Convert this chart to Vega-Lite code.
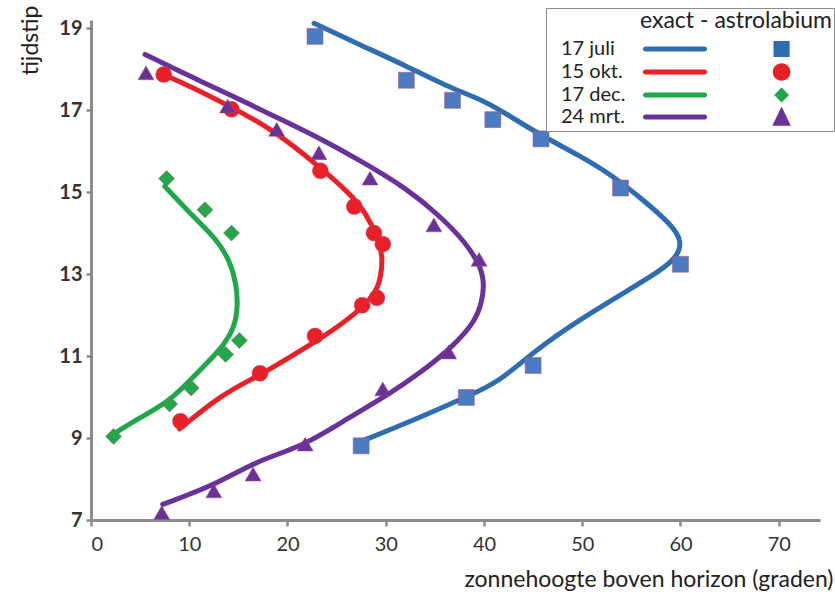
{
  "$schema": "https://vega.github.io/schema/vega-lite/v6.json",
  "width": 729,
  "height": 500,
  "autosize": "none",
  "padding": {"left": 91, "top": 20, "right": 15, "bottom": 78},
  "background": "white",
  "config": {"view": {"stroke": null}, "font": "Lato"},
  "data": {"values": [
    {"series":"17 juli","kind":"e","x":22.7,"y":19.12},
    {"series":"17 juli","kind":"e","x":27.6,"y":18.57},
    {"series":"17 juli","kind":"e","x":32.1,"y":18.08},
    {"series":"17 juli","kind":"e","x":36.1,"y":17.59},
    {"series":"17 juli","kind":"e","x":40.2,"y":17.22},
    {"series":"17 juli","kind":"e","x":42.9,"y":16.81},
    {"series":"17 juli","kind":"e","x":46.3,"y":16.32},
    {"series":"17 juli","kind":"e","x":49.6,"y":15.91},
    {"series":"17 juli","kind":"e","x":53.0,"y":15.42},
    {"series":"17 juli","kind":"e","x":56.4,"y":14.77},
    {"series":"17 juli","kind":"e","x":59.1,"y":14.2},
    {"series":"17 juli","kind":"e","x":60.2,"y":13.79},
    {"series":"17 juli","kind":"e","x":59.6,"y":13.4},
    {"series":"17 juli","kind":"e","x":57.8,"y":13.06},
    {"series":"17 juli","kind":"e","x":54.7,"y":12.61},
    {"series":"17 juli","kind":"e","x":49.6,"y":11.87},
    {"series":"17 juli","kind":"e","x":45.2,"y":11.14},
    {"series":"17 juli","kind":"e","x":41.5,"y":10.36},
    {"series":"17 juli","kind":"e","x":38.1,"y":9.99},
    {"series":"17 juli","kind":"e","x":32.7,"y":9.42},
    {"series":"17 juli","kind":"e","x":27.6,"y":8.93},
    {"series":"15 okt.","kind":"e","x":7.4,"y":17.87},
    {"series":"15 okt.","kind":"e","x":10.05,"y":17.59},
    {"series":"15 okt.","kind":"e","x":14.1,"y":17.1},
    {"series":"15 okt.","kind":"e","x":18.5,"y":16.53},
    {"series":"15 okt.","kind":"e","x":23.2,"y":15.63},
    {"series":"15 okt.","kind":"e","x":26.3,"y":14.98},
    {"series":"15 okt.","kind":"e","x":28.0,"y":14.49},
    {"series":"15 okt.","kind":"e","x":29.3,"y":13.83},
    {"series":"15 okt.","kind":"e","x":29.7,"y":13.4},
    {"series":"15 okt.","kind":"e","x":29.5,"y":12.93},
    {"series":"15 okt.","kind":"e","x":29.0,"y":12.53},
    {"series":"15 okt.","kind":"e","x":27.0,"y":12.04},
    {"series":"15 okt.","kind":"e","x":23.6,"y":11.46},
    {"series":"15 okt.","kind":"e","x":20.2,"y":10.97},
    {"series":"15 okt.","kind":"e","x":16.8,"y":10.48},
    {"series":"15 okt.","kind":"e","x":13.4,"y":10.08},
    {"series":"15 okt.","kind":"e","x":9.0,"y":9.22},
    {"series":"17 dec.","kind":"e","x":7.5,"y":15.14},
    {"series":"17 dec.","kind":"e","x":10.05,"y":14.49},
    {"series":"17 dec.","kind":"e","x":12.8,"y":13.85},
    {"series":"17 dec.","kind":"e","x":14.1,"y":13.34},
    {"series":"17 dec.","kind":"e","x":14.8,"y":12.77},
    {"series":"17 dec.","kind":"e","x":14.95,"y":12.2},
    {"series":"17 dec.","kind":"e","x":14.6,"y":11.7},
    {"series":"17 dec.","kind":"e","x":13.6,"y":11.3},
    {"series":"17 dec.","kind":"e","x":12.3,"y":10.95},
    {"series":"17 dec.","kind":"e","x":10.05,"y":10.4},
    {"series":"17 dec.","kind":"e","x":8.0,"y":9.9},
    {"series":"17 dec.","kind":"e","x":5.0,"y":9.5},
    {"series":"17 dec.","kind":"e","x":1.9,"y":9.04},
    {"series":"24 mrt.","kind":"e","x":5.5,"y":18.36},
    {"series":"24 mrt.","kind":"e","x":10.05,"y":17.83},
    {"series":"24 mrt.","kind":"e","x":14.1,"y":17.38},
    {"series":"24 mrt.","kind":"e","x":19.2,"y":16.79},
    {"series":"24 mrt.","kind":"e","x":22.6,"y":16.4},
    {"series":"24 mrt.","kind":"e","x":27.3,"y":15.79},
    {"series":"24 mrt.","kind":"e","x":32.1,"y":15.1},
    {"series":"24 mrt.","kind":"e","x":35.4,"y":14.44},
    {"series":"24 mrt.","kind":"e","x":38.1,"y":13.79},
    {"series":"24 mrt.","kind":"e","x":39.8,"y":13.14},
    {"series":"24 mrt.","kind":"e","x":40.0,"y":12.7},
    {"series":"24 mrt.","kind":"e","x":39.8,"y":12.36},
    {"series":"24 mrt.","kind":"e","x":39.2,"y":11.87},
    {"series":"24 mrt.","kind":"e","x":36.8,"y":11.22},
    {"series":"24 mrt.","kind":"e","x":33.4,"y":10.57},
    {"series":"24 mrt.","kind":"e","x":30.4,"y":10.08},
    {"series":"24 mrt.","kind":"e","x":26.0,"y":9.46},
    {"series":"24 mrt.","kind":"e","x":21.6,"y":8.8},
    {"series":"24 mrt.","kind":"e","x":16.8,"y":8.44},
    {"series":"24 mrt.","kind":"e","x":12.8,"y":7.87},
    {"series":"24 mrt.","kind":"e","x":7.3,"y":7.38},
    {"series":"17 juli","kind":"a","x":22.8,"y":18.8},
    {"series":"17 juli","kind":"a","x":32.1,"y":17.73},
    {"series":"17 juli","kind":"a","x":36.8,"y":17.24},
    {"series":"17 juli","kind":"a","x":40.9,"y":16.77},
    {"series":"17 juli","kind":"a","x":45.8,"y":16.3},
    {"series":"17 juli","kind":"a","x":53.9,"y":15.1},
    {"series":"17 juli","kind":"a","x":60.0,"y":13.24},
    {"series":"17 juli","kind":"a","x":45.0,"y":10.77},
    {"series":"17 juli","kind":"a","x":38.2,"y":9.99},
    {"series":"17 juli","kind":"a","x":27.5,"y":8.81},
    {"series":"15 okt.","kind":"a","x":7.4,"y":17.87},
    {"series":"15 okt.","kind":"a","x":14.3,"y":17.02},
    {"series":"15 okt.","kind":"a","x":23.35,"y":15.52},
    {"series":"15 okt.","kind":"a","x":26.8,"y":14.65},
    {"series":"15 okt.","kind":"a","x":28.8,"y":14.0},
    {"series":"15 okt.","kind":"a","x":29.7,"y":13.73},
    {"series":"15 okt.","kind":"a","x":29.1,"y":12.42},
    {"series":"15 okt.","kind":"a","x":27.6,"y":12.24},
    {"series":"15 okt.","kind":"a","x":22.8,"y":11.49},
    {"series":"15 okt.","kind":"a","x":17.2,"y":10.58},
    {"series":"15 okt.","kind":"a","x":9.1,"y":9.41},
    {"series":"17 dec.","kind":"a","x":7.7,"y":15.33},
    {"series":"17 dec.","kind":"a","x":11.6,"y":14.57},
    {"series":"17 dec.","kind":"a","x":14.3,"y":14.0},
    {"series":"17 dec.","kind":"a","x":15.1,"y":11.38},
    {"series":"17 dec.","kind":"a","x":13.7,"y":11.04},
    {"series":"17 dec.","kind":"a","x":10.2,"y":10.22},
    {"series":"17 dec.","kind":"a","x":8.0,"y":9.83},
    {"series":"17 dec.","kind":"a","x":2.3,"y":9.04},
    {"series":"24 mrt.","kind":"a","x":5.6,"y":17.91},
    {"series":"24 mrt.","kind":"a","x":13.9,"y":17.1},
    {"series":"24 mrt.","kind":"a","x":18.9,"y":16.53},
    {"series":"24 mrt.","kind":"a","x":23.2,"y":15.96},
    {"series":"24 mrt.","kind":"a","x":28.4,"y":15.34},
    {"series":"24 mrt.","kind":"a","x":34.9,"y":14.2},
    {"series":"24 mrt.","kind":"a","x":39.5,"y":13.36},
    {"series":"24 mrt.","kind":"a","x":36.4,"y":11.1},
    {"series":"24 mrt.","kind":"a","x":29.7,"y":10.2},
    {"series":"24 mrt.","kind":"a","x":21.8,"y":8.85},
    {"series":"24 mrt.","kind":"a","x":16.5,"y":8.12},
    {"series":"24 mrt.","kind":"a","x":12.5,"y":7.71},
    {"series":"24 mrt.","kind":"a","x":7.2,"y":7.18}
  ]},
  "encoding": {
    "x": {"field": "x", "type": "quantitative",
      "scale": {"domain": [0, 74.2], "nice": false, "zero": false},
      "axis": {"values": [0,10,20,30,40,50,60,70], "grid": false,
        "domainColor": "#8c8c8c", "domainWidth": 3, "tickColor": "#8c8c8c", "tickWidth": 2.5, "tickSize": 6,
        "labelFont": "Lato", "labelFontSize": 20, "labelColor": "#333333", "labelPadding": 8,
        "title": "zonnehoogte boven horizon (graden)", "titleFont": "Lato", "titleFontSize": 23,
        "titleFontWeight": "normal", "titleColor": "#222222", "titleAnchor": "end", "titleAlign": "right",
        "titleBaseline": "alphabetic", "titleX": 742, "titleY": 66}},
    "y": {"field": "y", "type": "quantitative",
      "scale": {"domain": [7, 19.2], "nice": false, "zero": false},
      "axis": {"values": [7,9,11,13,15,17,19], "grid": false,
        "domainColor": "#8c8c8c", "domainWidth": 3, "tickColor": "#8c8c8c", "tickWidth": 2.5, "tickSize": 5,
        "labelFont": "Lato", "labelFontSize": 20, "labelFontWeight": "bold", "labelColor": "#333333", "labelPadding": 4,
        "title": "tijdstip", "titleFont": "Lato", "titleFontSize": 23, "titleFontWeight": "normal", "titleColor": "#222222",
        "titleAngle": 270, "titleAlign": "center", "titleBaseline": "middle", "titleX": -61, "titleY": 20}}
  },
  "layer": [
    {
      "transform": [{"filter": "datum.kind == 'e'"}],
      "mark": {"type": "line", "strokeWidth": 5, "strokeCap": "round", "strokeJoin": "round", "interpolate": "basis"},
      "encoding": {
        "color": {"field": "series", "type": "nominal",
          "scale": {"domain": ["17 juli","15 okt.","17 dec.","24 mrt."], "range": ["#2f6db3","#ea1f28","#1fa84a","#6a3199"]},
          "legend": null},
        "order": {"field": "y", "type": "quantitative"}
      }
    },
    {
      "transform": [{"filter": "datum.kind == 'a'"}],
      "mark": {"type": "point", "filled": true, "opacity": 1, "stroke": "#b0506a", "strokeWidth": 0.7, "strokeOpacity": 0.7},
      "encoding": {
        "fill": {"field": "series", "type": "nominal",
          "scale": {"domain": ["17 juli","15 okt.","17 dec.","24 mrt."], "range": ["#4a7cc4","#ea1f28","#22a84a","#6a3199"]},
          "legend": null},
        "shape": {"field": "series", "type": "nominal",
          "scale": {"domain": ["17 juli","15 okt.","17 dec.","24 mrt."], "range": ["square","circle","diamond","triangle-up"]},
          "legend": null},
        "size": {"field": "series", "type": "nominal",
          "scale": {"domain": ["17 juli","15 okt.","17 dec.","24 mrt."], "range": [256, 256, 170, 380]},
          "legend": null}
      }
    },
    {
      "transform": [{"filter": "datum.kind == 'a'"}],
      "mark": {"type": "point", "filled": true, "opacity": 0},
      "encoding": {
        "color": {"field": "series", "type": "nominal",
          "scale": {"domain": ["17 juli","15 okt.","17 dec.","24 mrt."], "range": ["#2f6db3","#ea1f28","#1fa84a","#6a3199"]},
          "legend": {
            "orient": "none", "legendX": 455, "legendY": -12,
            "title": "exact - astrolabium", "titleFont": "Lato", "titleFontSize": 23, "titleFontWeight": "normal", "titleColor": "#222222",
            "titleAnchor": "end", "titleLimit": 400, "titlePadding": 5,
            "labelFont": "Lato", "labelFontSize": 20, "labelColor": "#222222", "labelAlign": "left", "labelOffset": -104, "labelLimit": 200,
            "symbolSize": 416, "symbolOpacity": 1, "symbolOffset": 95, "rowPadding": -4,
            "strokeColor": "#8c8c8c", "fillColor": "white", "padding": 2
          }},
        "shape": {"field": "series", "type": "nominal",
          "scale": {"domain": ["17 juli","15 okt.","17 dec.","24 mrt."], "range": [
            "M-0.83,-0.25L4.96,-0.25A0.25,0.25,0,0,1,4.96,0.25L-0.83,0.25A0.25,0.25,0,0,1,-0.83,-0.25ZM11.72,-0.79L13.3,-0.79L13.3,0.79L11.72,0.79ZM17.15,-0.01L17.15,0.01Z",
            "M-0.83,-0.25L4.96,-0.25A0.25,0.25,0,0,1,4.96,0.25L-0.83,0.25A0.25,0.25,0,0,1,-0.83,-0.25ZM11.65,0A0.86,0.86,0,1,0,13.37,0A0.86,0.86,0,1,0,11.65,0ZM17.15,-0.01L17.15,0.01Z",
            "M-0.83,-0.25L4.96,-0.25A0.25,0.25,0,0,1,4.96,0.25L-0.83,0.25A0.25,0.25,0,0,1,-0.83,-0.25ZM12.51,-0.73L13.24,0L12.51,0.73L11.78,0ZM17.15,-0.01L17.15,0.01Z",
            "M-0.83,-0.25L4.96,-0.25A0.25,0.25,0,0,1,4.96,0.25L-0.83,0.25A0.25,0.25,0,0,1,-0.83,-0.25ZM12.51,-1.02L13.42,0.86L11.6,0.86ZM17.15,-0.01L17.15,0.01Z"
          ]},
          "legend": {
            "orient": "none", "legendX": 455, "legendY": -12,
            "title": "exact - astrolabium", "titleFont": "Lato", "titleFontSize": 23, "titleFontWeight": "normal", "titleColor": "#222222",
            "titleAnchor": "end", "titleLimit": 400, "titlePadding": 5,
            "labelFont": "Lato", "labelFontSize": 20, "labelColor": "#222222", "labelAlign": "left", "labelOffset": -104, "labelLimit": 200,
            "symbolSize": 416, "symbolOpacity": 1, "symbolOffset": 95, "rowPadding": -4,
            "strokeColor": "#8c8c8c", "fillColor": "white", "padding": 2
          }}
      }
    }
  ],
  "resolve": {"scale": {"shape": "independent", "color": "independent"}}
}
